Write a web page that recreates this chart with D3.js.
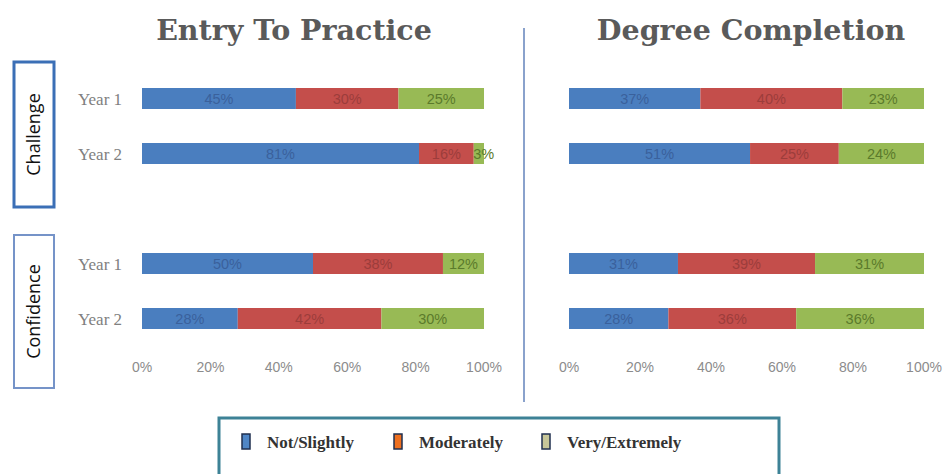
<!DOCTYPE html>
<html>
<head>
<meta charset="utf-8">
<script src="https://cdn.jsdelivr.net/npm/d3@7"></script>
<style>
  body { margin: 0; background: #fff; }
</style>
</head>
<body>
<div id="chart"></div>
<script>
// categories and values
const categories = ["Not/Slightly", "Moderately", "Very/Extremely"];
const groups = ["Challenge", "Confidence"];
const rowLabels = ["Year 1", "Year 2", "Year 1", "Year 2"];
const rowKeys = ["c1", "c2", "gap", "f1", "f2"];
const panelTitles = ["Entry To Practice", "Degree Completion"];
// rows: Challenge Y1, Challenge Y2, Confidence Y1, Confidence Y2
const entryToPractice = [[45, 30, 25], [81, 16, 3], [50, 38, 12], [28, 42, 30]];
const degreeCompletion = [[37, 40, 23], [51, 25, 24], [31, 39, 31], [28, 36, 36]];
const tickValues = [0, 20, 40, 60, 80, 100];

let width = 947, height = 474;
let barColors = ["#4a7ebf", "#c44e4b", "#98ba55"];
let textColors = ["#3a619c", "#9c3d3b", "#5b7a2c"];
let legendFill = ["#4f86c6", "#ee7020", "#c6c699"];

let svg = d3.select("#chart").append("svg")
  .attr("width", width)
  .attr("height", height);

let y = d3.scalePoint().domain(rowKeys).range([98.5, 318.5]);
let barH = 21;
let dataRows = ["c1", "c2", "f1", "f2"];

let panels = [
  {title: panelTitles[0], data: entryToPractice, range: [142, 484], labels: true, tx: 294},
  {title: panelTitles[1], data: degreeCompletion, range: [569, 924], labels: false, tx: 751}
];

let stack = d3.stack().keys([0, 1, 2]);

panels.forEach(p => {
  let x = d3.scaleLinear().domain([0, 100]).range(p.range);
  let g = svg.append("g");

  // title
  g.append("text")
    .attr("x", p.tx)
    .attr("y", 40)
    .attr("text-anchor", "middle")
    .style("font-family", "'DejaVu Serif', serif")
    .style("font-weight", "bold")
    .style("font-size", "28.5px")
    .style("fill", "#5a5a5a")
    .text(p.title);

  // normalise to 100%
  let norm = p.data.map((r, i) => {
    let tot = d3.sum(r);
    let o = {row: dataRows[i]};
    r.forEach((v, j) => o[j] = v / tot * 100);
    o.raw = r;
    return o;
  });
  let series = stack(norm);

  let layer = g.selectAll("g.layer")
    .data(series)
    .join("g")
    .attr("class", "layer")
    .attr("fill", d => barColors[d.key]);

  layer.selectAll("rect")
    .data(d => d)
    .join("rect")
    .attr("x", d => x(d[0]))
    .attr("y", d => y(d.data.row) - barH / 2)
    .attr("width", d => x(d[1]) - x(d[0]))
    .attr("height", barH);

  layer.selectAll("text")
    .data(d => d.map(e => ({key: d.key, s: e})))
    .join("text")
    .attr("x", d => {
      let w = x(d.s[1]) - x(d.s[0]);
      return w < 20 ? x(d.s[0]) + 10 : (x(d.s[0]) + x(d.s[1])) / 2;
    })
    .attr("y", d => y(d.s.data.row) + 5.5)
    .attr("text-anchor", "middle")
    .style("font-family", "'Liberation Sans', sans-serif")
    .style("font-size", "14.5px")
    .style("fill", d => textColors[d.key])
    .text(d => d.s.data.raw[d.key] + "%");

  // x axis tick labels
  g.selectAll("text.tick")
    .data(tickValues)
    .join("text")
    .attr("class", "tick")
    .attr("x", d => x(d))
    .attr("y", 372)
    .attr("text-anchor", "middle")
    .style("font-family", "'Liberation Sans', sans-serif")
    .style("font-size", "14px")
    .style("fill", "#8c8c8c")
    .text(d => d + "%");

  if (p.labels) {
    g.selectAll("text.row")
      .data(dataRows)
      .join("text")
      .attr("class", "row")
      .attr("x", 78)
      .attr("y", d => y(d) + 6)
      .style("font-family", "'Liberation Serif', serif")
      .style("font-size", "17px")
      .style("fill", "#808080")
      .text((d, i) => rowLabels[i]);
  }
});

// divider
svg.append("line")
  .attr("x1", 524).attr("x2", 524)
  .attr("y1", 28).attr("y2", 402)
  .attr("stroke", "#8aa2cc")
  .attr("stroke-width", 2);

// group boxes
let boxes = [
  {name: groups[0], y0: 62, y1: 207, stroke: "#3b6fb6", sw: 3},
  {name: groups[1], y0: 235, y1: 388, stroke: "#7593c8", sw: 2}
];
boxes.forEach(b => {
  svg.append("rect")
    .attr("x", 14).attr("y", b.y0)
    .attr("width", 40).attr("height", b.y1 - b.y0)
    .attr("fill", "#fff")
    .attr("stroke", b.stroke)
    .attr("stroke-width", b.sw);
  svg.append("text")
    .attr("transform", "translate(40," + (b.y0 + b.y1) / 2 + ") rotate(-90)")
    .attr("text-anchor", "middle")
    .style("font-family", "'Open Sans', sans-serif")
    .style("font-size", "18px")
    .style("fill", "#111")
    .text(b.name);
});

// legend
let legend = svg.append("g");
legend.append("rect")
  .attr("x", 219).attr("y", 418)
  .attr("width", 560).attr("height", 70)
  .attr("fill", "#fff")
  .attr("stroke", "#3d8296")
  .attr("stroke-width", 3);

let legendX = [242, 394, 542];
let items = legend.selectAll("g.item")
  .data(categories)
  .join("g")
  .attr("class", "item")
  .attr("transform", (d, i) => "translate(" + legendX[i] + ",434)");

items.append("rect")
  .attr("width", 8).attr("height", 15)
  .attr("fill", (d, i) => legendFill[i])
  .attr("stroke", "#1f2f4f")
  .attr("stroke-width", 1.5);

items.append("text")
  .attr("x", 25)
  .attr("y", 14)
  .style("font-family", "'Liberation Serif', serif")
  .style("font-weight", "bold")
  .style("font-size", "17px")
  .style("fill", "#333")
  .text(d => d);
</script>
</body>
</html>
